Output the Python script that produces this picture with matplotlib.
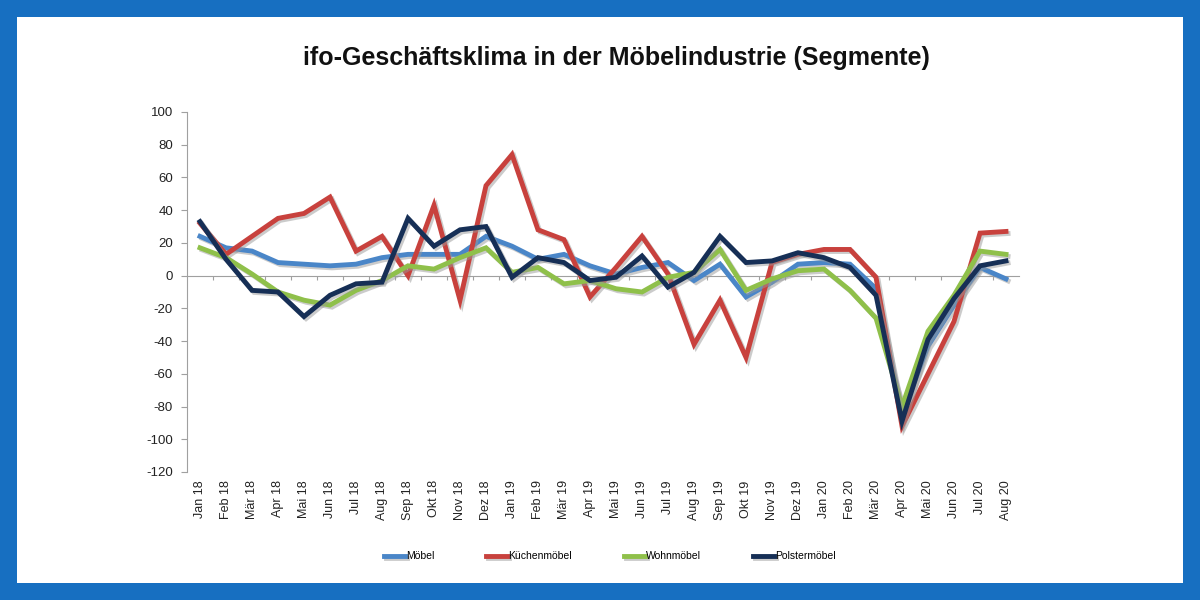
import matplotlib.pyplot as plt
import matplotlib.patheffects as pe
from matplotlib.patches import Rectangle

# Monate Jan 18 - Aug 20
months = ["Jan 18", "Feb 18", "Mär 18", "Apr 18", "Mai 18", "Jun 18", "Jul 18", "Aug 18",
          "Sep 18", "Okt 18", "Nov 18", "Dez 18", "Jan 19", "Feb 19", "Mär 19", "Apr 19",
          "Mai 19", "Jun 19", "Jul 19", "Aug 19", "Sep 19", "Okt 19", "Nov 19", "Dez 19",
          "Jan 20", "Feb 20", "Mär 20", "Apr 20", "Mai 20", "Jun 20", "Jul 20", "Aug 20"]

moebel = [24, 17, 15, 8, 7, 6, 7, 11, 13, 13, 13, 24, 18, 10, 13, 6,
          1, 5, 8, -3, 7, -13, -4, 7, 8, 7, -8, -85, -43, -18, 5, -2]
kuechen = [32, 13, 24, 35, 38, 48, 15, 24, 0, 43, -15, 55, 74, 28, 22, -13,
           5, 24, 1, -42, -15, -50, 8, 13, 16, 16, -1, -92, -60, -28, 26, 27]
wohn = [17, 11, 1, -10, -15, -18, -9, -3, 6, 4, 11, 17, 2, 5, -5, -3,
        -8, -10, -1, 2, 16, -9, -2, 3, 4, -9, -26, -80, -34, -12, 15, 13]
polster = [33, 10, -9, -10, -25, -12, -5, -4, 35, 18, 28, 30, -1, 11, 8, -3,
           -1, 12, -7, 2, 24, 8, 9, 14, 11, 5, -12, -89, -39, -14, 6, 9]

series = [("Möbel", moebel, "#4a86c8"),
          ("Küchenmöbel", kuechen, "#c8413d"),
          ("Wohnmöbel", wohn, "#8fc04a"),
          ("Polstermöbel", polster, "#162f56")]

plt.rcParams['font.family'] = ['Liberation Sans', 'DejaVu Sans']
plt.rcParams['axes.unicode_minus'] = False

fig = plt.figure(figsize=(12, 6), dpi=100)
fig.patch.set_facecolor("#176fc1")
fig.patches.append(Rectangle((17 / 1200, 17 / 600), 1166 / 1200, 566 / 600,
                             transform=fig.transFigure, facecolor="white",
                             edgecolor="none", zorder=-5))

ax = fig.add_axes([187 / 1200, 128 / 600, 832 / 1200, 360 / 600])
ax.set_facecolor("none")

x = list(range(len(months)))
shadow = [pe.SimpleLineShadow(offset=(1.5, -1.5), shadow_color="#999999", alpha=0.5), pe.Normal()]
for name, vals, col in series:
    ax.plot(x, vals, color=col, lw=3.5, label=name, solid_joinstyle="miter",
            path_effects=shadow)

ax.set_xlim(-0.5, len(months) - 0.5)
ax.set_ylim(-120, 100)
ax.set_yticks(range(-120, 101, 20))
ax.set_xticks(x)
ax.set_xticklabels(months, rotation=90, fontsize=9, color="#222222")
ax.tick_params(axis="x", length=0, pad=6)
ax.tick_params(axis="y", length=4, color="#a0a0a0", labelsize=9.5, labelcolor="#222222", pad=6)

for s in ["top", "right", "bottom"]:
    ax.spines[s].set_visible(False)
ax.spines["left"].set_color("#a0a0a0")

# Nulllinie mit Kategorie-Teilstrichen
zero = ax.secondary_xaxis(0, transform=ax.transData)
zero.set_xticks([i + 0.5 for i in x[:-1]])
zero.set_xticklabels([])
zero.tick_params(length=3, color="#a0a0a0")
zero.spines["bottom"].set_color("#a0a0a0")

fig.text(0.514, 0.903, "ifo-Geschäftsklima in der Möbelindustrie (Segmente)",
         ha="center", va="center", fontsize=18, fontweight="bold", color="#111111")

fig.legend(loc="center", bbox_to_anchor=(0.508, 0.073), ncol=4, frameon=False,
           fontsize=7.5, handlelength=2.0, handletextpad=0.1, columnspacing=5.0)

fig.savefig("out.png", dpi=100, facecolor=fig.get_facecolor())
